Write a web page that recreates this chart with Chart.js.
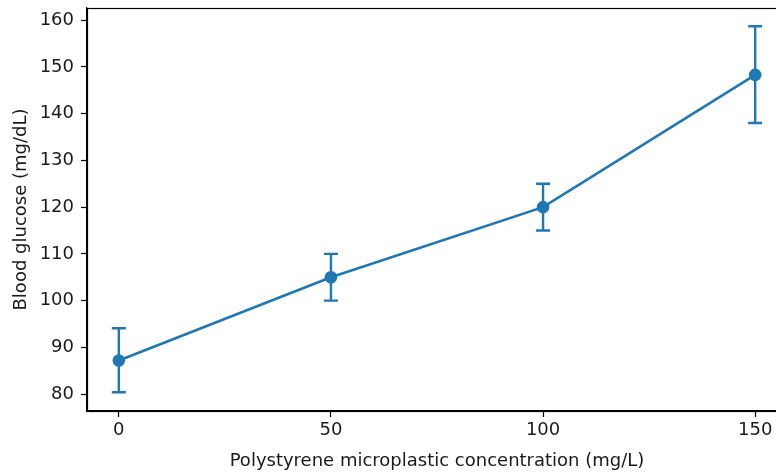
<!DOCTYPE html>
<html>
<head>
<meta charset="utf-8">
<script src="https://cdn.jsdelivr.net/npm/chart.js@4/dist/chart.umd.min.js"></script>
<style>
  html, body { margin: 0; padding: 0; background: #fff; overflow: hidden; }
  #wrap { position: absolute; left: 0; top: 0; width: 800px; height: 472px; }
</style>
</head>
<body>
<div id="wrap"><canvas id="main-chart"></canvas></div>
<script>
// concentration (mg/L) and blood glucose (mg/dL)
const concentrations = [0, 50, 100, 150];
const glucose = [87.2, 105, 120, 148.3];
const glucose_low = [80.4, 100, 115, 138];
const glucose_high = [94.1, 110, 125, 158.7];

const x_ticks = [0, 50, 100, 150];
const y_ticks = [80, 90, 100, 110, 120, 130, 140, 150, 160];

const line_color = "#1f77b4";
const text_color = "#1a1a1a";
const font_family = "'DejaVu Sans', sans-serif";

// error bars + top/right spines, drawn through the chart scales
const errorBars = {
    id: "errorBars",
    beforeDatasetsDraw(chart)
    {
        const ctx = chart.ctx;
        const xs = chart.scales.x;
        const ys = chart.scales.y;
        ctx.save();
        ctx.strokeStyle = line_color;
        ctx.lineWidth = 2.4;
        for(let i = 0; i < concentrations.length; i++)
        {
            const px = xs.getPixelForValue(concentrations[i]);
            const top = ys.getPixelForValue(glucose_high[i]);
            const bot = ys.getPixelForValue(glucose_low[i]);
            ctx.beginPath();
            ctx.moveTo(px, top);
            ctx.lineTo(px, bot);
            ctx.moveTo(px - 7, top);
            ctx.lineTo(px + 7, top);
            ctx.moveTo(px - 7, bot);
            ctx.lineTo(px + 7, bot);
            ctx.stroke();
        }
        ctx.restore();
    },
    afterDatasetsDraw(chart)
    {
        const ctx = chart.ctx;
        const a = chart.chartArea;
        ctx.save();
        ctx.strokeStyle = "#000";
        ctx.lineWidth = 1.2;
        ctx.strokeRect(Math.round(a.left) + 0.5, Math.round(a.top) + 0.5,
                       Math.round(a.right - a.left), Math.round(a.bottom - a.top));
        ctx.restore();
    }
};

function noOverflow(axis)
{
    axis.paddingTop = 0;
    axis.paddingBottom = 0;
    axis.paddingLeft = 0;
    axis.paddingRight = 0;
}

const chart = new Chart(document.getElementById("main-chart"), {
    type: "line",
    data: {
        datasets: [{
            data: concentrations.map((c, i) => ({x: c, y: glucose[i]})),
            borderColor: line_color,
            backgroundColor: line_color,
            borderWidth: 2.6,
            pointRadius: 6.3,
            pointHoverRadius: 6.3,
            pointBorderWidth: 0,
            tension: 0
        }]
    },
    options: {
        responsive: true,
        maintainAspectRatio: false,
        animation: false,
        layout: { padding: { left: 0, right: 13, top: 8, bottom: 0 } },
        plugins: {
            legend: { display: false },
            tooltip: { enabled: false }
        },
        scales: {
            x: {
                type: "linear",
                min: -7.5,
                max: 157.5,
                afterBuildTicks: (axis) => { axis.ticks = x_ticks.map(v => ({value: v})); },
                afterFit: (axis) => { axis.height = 61; noOverflow(axis); },
                grid: { drawOnChartArea: false, drawTicks: true, tickLength: 6, tickColor: "#000", tickWidth: 1.2 },
                border: { display: true, color: "#000", width: 1.2 },
                ticks: { color: text_color, font: { family: font_family, size: 18 }, padding: 3, maxRotation: 0 },
                title: {
                    display: true,
                    text: "Polystyrene microplastic concentration (mg/L)",
                    color: text_color,
                    font: { family: font_family, size: 18 },
                    padding: { top: 0, bottom: 0 }
                }
            },
            y: {
                type: "linear",
                min: 76.4,
                max: 162.6,
                afterBuildTicks: (axis) => { axis.ticks = y_ticks.map(v => ({value: v})); },
                afterFit: (axis) => { axis.width = 87; noOverflow(axis); },
                grid: { drawOnChartArea: false, drawTicks: true, tickLength: 6, tickColor: "#000", tickWidth: 1.2 },
                border: { display: true, color: "#000", width: 1.2 },
                ticks: { color: text_color, font: { family: font_family, size: 18 }, padding: 7 },
                title: {
                    display: true,
                    text: "Blood glucose (mg/dL)",
                    color: text_color,
                    font: { family: font_family, size: 18 },
                    padding: { top: 11, bottom: 4 }
                }
            }
        }
    },
    plugins: [errorBars]
});
</script>
</body>
</html>
